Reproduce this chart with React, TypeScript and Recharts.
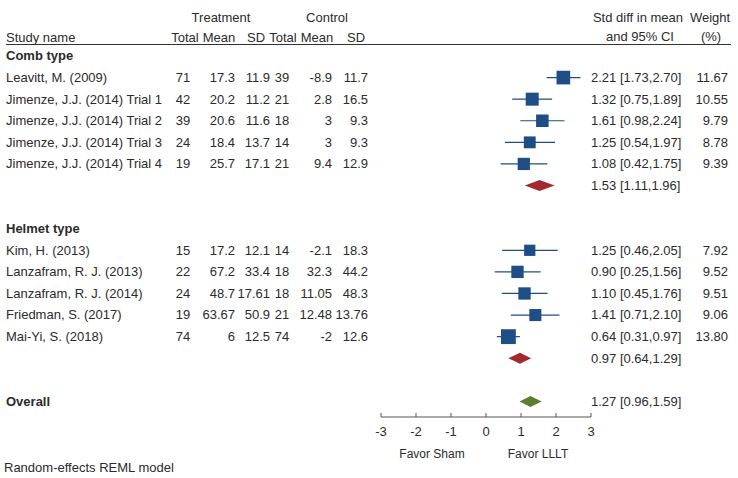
import React from "react"
import { ComposedChart, Bar, XAxis, YAxis } from "recharts"

// study level data
const studyNames = [
  "Leavitt, M. (2009)",
  "Jimenze, J.J. (2014) Trial 1",
  "Jimenze, J.J. (2014) Trial 2",
  "Jimenze, J.J. (2014) Trial 3",
  "Jimenze, J.J. (2014) Trial 4",
  "Kim, H. (2013)",
  "Lanzafram, R. J. (2013)",
  "Lanzafram, R. J. (2014)",
  "Friedman, S. (2017)",
  "Mai-Yi, S. (2018)",
]
const studyGroup = ["comb", "comb", "comb", "comb", "comb", "helmet", "helmet", "helmet", "helmet", "helmet"]
const treatTotal = [71, 42, 39, 24, 19, 15, 22, 24, 19, 74]
const treatMean = [17.3, 20.2, 20.6, 18.4, 25.7, 17.2, 67.2, 48.7, 63.67, 6]
const treatSD = [11.9, 11.2, 11.6, 13.7, 17.1, 12.1, 33.4, 17.61, 50.9, 12.5]
const ctrlTotal = [39, 21, 18, 14, 21, 14, 18, 18, 21, 74]
const ctrlMean = [-8.9, 2.8, 3, 3, 9.4, -2.1, 32.3, 11.05, 12.48, -2]
const ctrlSD = [11.7, 16.5, 9.3, 9.3, 12.9, 18.3, 44.2, 48.3, 13.76, 12.6]
const smd = [2.21, 1.32, 1.61, 1.25, 1.08, 1.25, 0.9, 1.1, 1.41, 0.64]
const ciLow = [1.73, 0.75, 0.98, 0.54, 0.42, 0.46, 0.25, 0.45, 0.71, 0.31]
const ciHigh = [2.7, 1.89, 2.24, 1.97, 1.75, 2.05, 1.56, 1.76, 2.1, 0.97]
const weight = [11.67, 10.55, 9.79, 8.78, 9.39, 7.92, 9.52, 9.51, 9.06, 13.8]

// subgroup and overall summaries
const groupKeys = ["comb", "helmet"]
const groupLabels = ["Comb type", "Helmet type"]
const groupEst = [1.53, 0.97]
const groupLow = [1.11, 0.64]
const groupHigh = [1.96, 1.29]
const overallEst = 1.27
const overallLow = 0.96
const overallHigh = 1.59

const xTicks = [-3, -2, -1, 0, 1, 2, 3]

const BLUE = "#1f4e86"
const RED = "#a3282f"
const GREEN = "#5b7f2f"
const TEXT = "#2b2b2b"
const FONT = "'Liberation Sans', Arial, sans-serif"

type Row = {
  key: string
  kind: "head" | "study" | "sum" | "overall" | "gap"
  label?: string
  i?: number
  est?: number
  lo?: number
  hi?: number
  range?: [number, number]
}

const rows: Row[] = []
groupKeys.forEach((g, gi) => {
  rows.push({ key: g + "-head", kind: "head", label: groupLabels[gi] })
  studyNames.forEach((name, i) => {
    if (studyGroup[i] !== g) return
    rows.push({ key: "s" + i, kind: "study", label: name, i, est: smd[i], lo: ciLow[i], hi: ciHigh[i], range: [ciLow[i], ciHigh[i]] })
  })
  rows.push({ key: g + "-sum", kind: "sum", est: groupEst[gi], lo: groupLow[gi], hi: groupHigh[gi], range: [groupLow[gi], groupHigh[gi]] })
  rows.push({ key: g + "-gap", kind: "gap" })
})
rows.push({ key: "overall", kind: "overall", label: "Overall", est: overallEst, lo: overallLow, hi: overallHigh, range: [overallLow, overallHigh] })

const rowByKey: Record<string, Row> = {}
rows.forEach((r) => (rowByKey[r.key] = r))

const f2 = (v: number) => v.toFixed(2)

// text column anchors
const COL = {
  name: 6,
  tTotal: 183,
  tMean: 235,
  tSD: 270,
  cTotal: 282,
  cMean: 332,
  cSD: 368,
  ci: 591,
  weight: 728,
}

function RowTick(props: any) {
  const { y, payload } = props
  const row = rowByKey[payload.value]
  if (!row || row.kind === "gap") return <g />
  const t = { fontFamily: FONT, fontSize: 13, fill: TEXT, dy: "0.35em", y }
  if (row.kind === "head") {
    return (
      <text {...t} x={COL.name} fontWeight="bold">
        {row.label}
      </text>
    )
  }
  const ciText = `${f2(row.est!)} [${f2(row.lo!)},${f2(row.hi!)}]`
  if (row.kind !== "study") {
    return (
      <g>
        {row.label && (
          <text {...t} x={COL.name} fontWeight="bold">
            {row.label}
          </text>
        )}
        <text {...t} x={COL.ci}>
          {ciText}
        </text>
      </g>
    )
  }
  const i = row.i!
  return (
    <g>
      <text {...t} x={COL.name}>{row.label}</text>
      <text {...t} x={COL.tTotal} textAnchor="middle">{treatTotal[i]}</text>
      <text {...t} x={COL.tMean} textAnchor="end">{treatMean[i]}</text>
      <text {...t} x={COL.tSD} textAnchor="end">{treatSD[i]}</text>
      <text {...t} x={COL.cTotal} textAnchor="middle">{ctrlTotal[i]}</text>
      <text {...t} x={COL.cMean} textAnchor="end">{ctrlMean[i]}</text>
      <text {...t} x={COL.cSD} textAnchor="end">{ctrlSD[i]}</text>
      <text {...t} x={COL.ci}>{ciText}</text>
      <text {...t} x={COL.weight} textAnchor="end">{f2(weight[i])}</text>
    </g>
  )
}

function ForestMark(props: any) {
  const { x, y, width, height, payload } = props
  if (!payload || !payload.range || !isFinite(x) || !isFinite(width)) return <g />
  const cy = y + height / 2
  const cx = x + (width * (payload.est - payload.lo)) / (payload.hi - payload.lo)
  if (payload.kind === "study") {
    const s = 4 * Math.sqrt(weight[payload.i])
    return (
      <g>
        <line x1={x} x2={x + width} y1={cy} y2={cy} stroke={BLUE} strokeWidth={1.2} />
        <rect x={cx - s / 2} y={cy - s / 2} width={s} height={s} fill={BLUE} />
      </g>
    )
  }
  const h = 5.5
  return (
    <polygon
      points={`${x},${cy} ${cx},${cy - h} ${x + width},${cy} ${cx},${cy + h}`}
      fill={payload.kind === "overall" ? GREEN : RED}
    />
  )
}

export default function App() {
  return (
    <div style={{ position: "absolute", left: 0, top: 0, width: 738, height: 478, background: "#fff" }}>
      <ComposedChart
        width={738}
        height={478}
        data={rows}
        layout="vertical"
        margin={{ top: 45, right: 147, bottom: 31, left: 0 }}
      >
        <XAxis
          type="number"
          domain={[-3, 3]}
          ticks={xTicks}
          allowDataOverflow
          stroke="#555"
          tickSize={-4}
          tickMargin={14}
          tick={{ fontSize: 13, fill: TEXT, fontFamily: FONT }}
        />
        <YAxis
          type="category"
          dataKey="key"
          width={381}
          axisLine={false}
          tickLine={false}
          interval={0}
          padding={{ top: 0, bottom: 5 }}
          tick={<RowTick />}
        />
        <Bar dataKey="range" barSize={20} shape={<ForestMark />} isAnimationActive={false} />
      </ComposedChart>
      <svg
        width={738}
        height={478}
        style={{ position: "absolute", left: 0, top: 0, pointerEvents: "none" }}
        fontFamily={FONT}
        fontSize={13}
        fill={TEXT}
      >
        <text x={221} y={17} dy="0.35em" textAnchor="middle">Treatment</text>
        <text x={327} y={17} dy="0.35em" textAnchor="middle">Control</text>
        <text x={6} y={37} dy="0.35em">Study name</text>
        <text x={185} y={37} dy="0.35em" textAnchor="middle">Total</text>
        <text x={219} y={37} dy="0.35em" textAnchor="middle">Mean</text>
        <text x={256} y={37} dy="0.35em" textAnchor="middle">SD</text>
        <text x={283} y={37} dy="0.35em" textAnchor="middle">Total</text>
        <text x={317} y={37} dy="0.35em" textAnchor="middle">Mean</text>
        <text x={356} y={37} dy="0.35em" textAnchor="middle">SD</text>
        <text x={638} y={17} dy="0.35em" textAnchor="middle">Std diff in mean</text>
        <text x={640} y={36} dy="0.35em" textAnchor="middle">and 95% CI</text>
        <text x={710} y={17} dy="0.35em" textAnchor="middle">Weight</text>
        <text x={711} y={36} dy="0.35em" textAnchor="middle">(%)</text>
        <line x1={6} x2={731} y1={44.5} y2={44.5} stroke="#333" strokeWidth={1} />
        <text x={432} y={454} dy="0.35em" textAnchor="middle" fontSize={12}>Favor Sham</text>
        <text x={538} y={454} dy="0.35em" textAnchor="middle" fontSize={12}>Favor LLLT</text>
        <text x={4} y={467} dy="0.35em">Random-effects REML model</text>
      </svg>
    </div>
  )
}
